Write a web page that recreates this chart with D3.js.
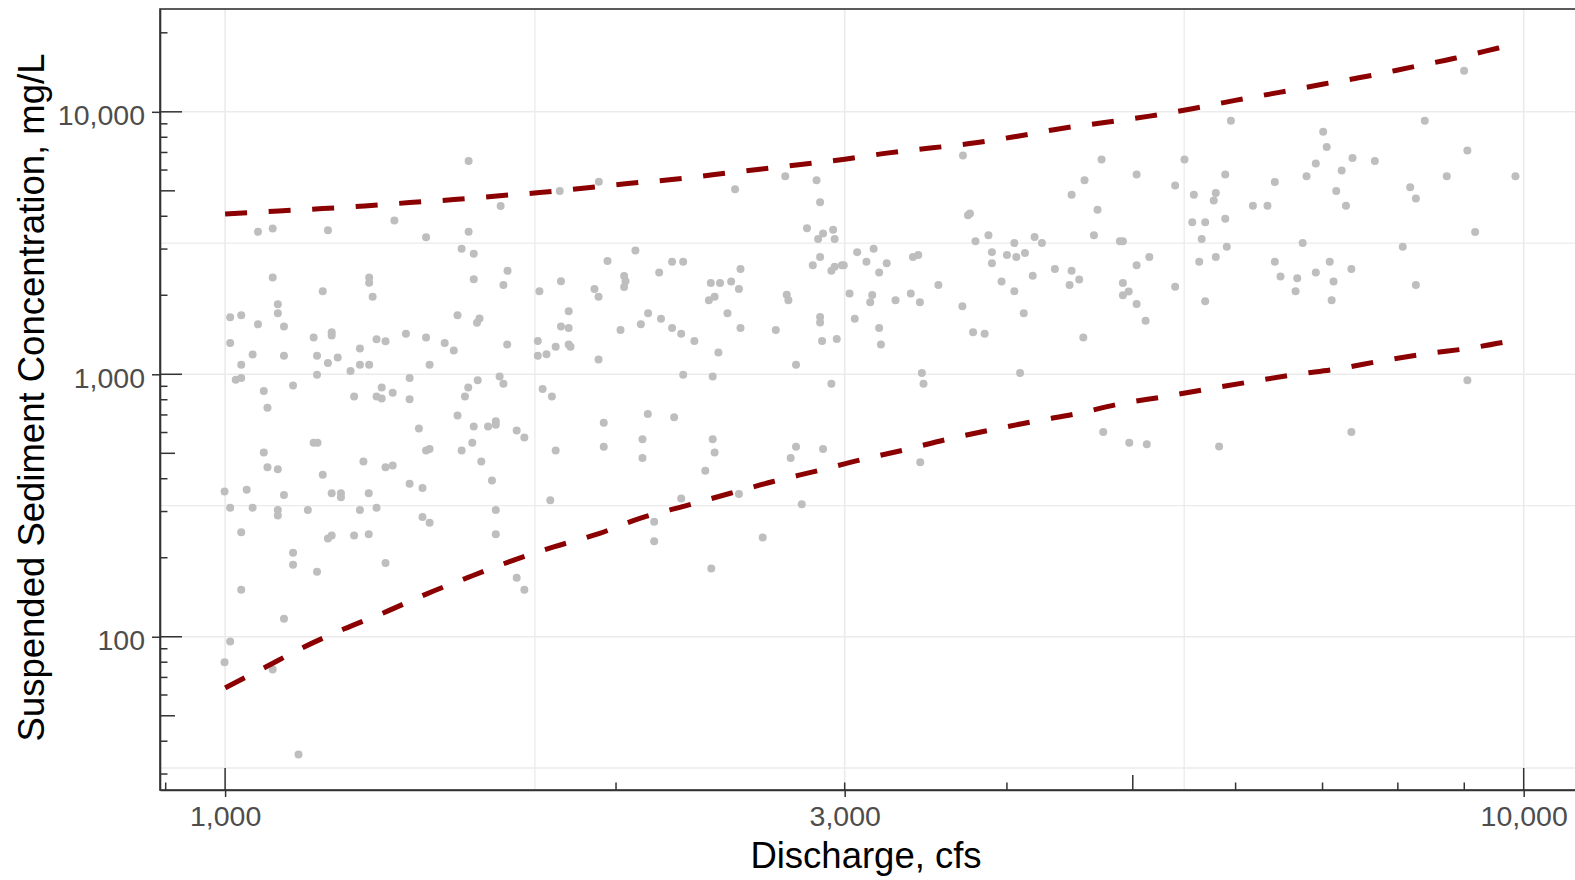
<!DOCTYPE html>
<html>
<head>
<meta charset="utf-8">
<script src="https://cdn.jsdelivr.net/npm/d3@7"></script>
<style>
body { margin: 0; background: #fff; }
svg { display: block; font-family: "Liberation Sans", Arial, sans-serif; }
</style>
</head>
<body>
<svg id="board" width="1575" height="880"></svg>
<script>
// samples: discharge (cfs) and suspended sediment (mg/L)
let discharge = [1540,1940,1810,1630,1350,1060,1088,1200,1540,1428,1521,1554,2070,1970,1650,1088,1291,1291,1299,1189,
  1554,1638,1746,1814,2029,2034,2029,1925,1939,1009,1029,1060,1098,1098,1110,1510,1570,1563,1839,1814,
  1839,2117,2090,2016,1009,1050,1029,1110,1170,1177,1208,1208,1200,1221,1270,1270,1291,1249,1308,1329,
  1378,1428,1476,1500,1437,1649,1741,1741,1768,1797,1839,1845,1939,1019,1029,1071,1128,1177,1320,1346,
  1387,1257,1308,1320,1387,1530,1539,1565,1627,1638,1756,1785,1078,1510,1410,1554,1594,1616,1616,1677,
  1700,1957,2116,1797,1957,2096,2096,1071,1078,1098,1170,1178,1189,1278,1329,1346,1428,1437,1521,1550,
  1575,999,1039,1110,1208,1228,1228,1290,1387,1419,1605,1009,1050,1098,1098,1158,1270,1308,1419,1437,
  1616,1780,1029,1200,1208,1257,1290,1616,1128,1128,1177,1329,1029,1677,1700,1110,1009,999,1088,1139,
  3700,2470,2700,2854,2872,4486,4590,3733,3746,2806,2887,2939,2862,2947,3783,3871,4053,4201,4256,4667,
  2159,2209,2253,2366,2405,2453,2494,2487,2358,2382,2437,2494,2298,2245,2209,2166,2398,2253,2374,2707,
  2715,2655,2752,2835,2872,2930,2947,2985,2995,3067,3118,3158,3189,3232,3026,3150,3139,3283,2872,2872,
  2882,2958,3054,3189,3199,2930,3373,3428,3386,3418,3542,3696,3767,3845,3440,3450,3895,3895,4000,4067,
  4130,3962,4053,4187,4121,4094,4355,4486,4470,4547,4580,8997,5950,8391,7008,7052,9050,4731,5480,6917,
  7382,7680,5034,5891,6804,7242,8725,9855,5390,6432,7172,8177,8260,4697,5572,5793,5772,6187,6349,7297,
  5556,5685,5891,4887,4913,5650,5907,6758,8070,9175,5034,5149,5625,5793,6432,6497,6693,6917,7090,7138,
  7367,4913,4913,4964,5034,5115,5390,5685,6673,7114,8260,9050,4745,4969,5126,5827,7367,2217,2374,2382,
  2343,2245,2140,2140,2487,2752,2726,2887,2780,2594,2368,3430]
let concentration = [6490,5410,4990,4380,3850,3490,3590,3540,3490,3330,3010,2880,2960,2700,2480,2340,2340,2230,1975,2070,
  2300,2190,2070,2260,2370,2260,2150,2115,1975,1650,1680,1550,1850,1710,1520,1680,1630,1570,1740,1520,
  1500,1710,1550,1475,1317,1190,1087,1177,1380,1177,1445,1405,1103,1158,1253,1087,1087,1030,1359,1336,
  1426,1382,1317,1231,1087,1298,1339,1177,1192,1272,1298,1272,1138,953,967,863,906,997,890,851,
  967,823,823,808,803,823,890,950,980,920,878,823,746,696,622,633,633,663,643,611,
  574,654,706,512,530,565,480,503,442,435,548,548,414,465,442,449,512,519,512,548,
  465,358,363,347,352,352,340,352,383,369,394,310,310,304,290,304,304,310,286,272,
  304,331,250,237,243,243,246,246,209,188,177,191,151,168,151,117,96,80,75,35.6,
  6810,5070,5680,5485,4520,4830,5485,4035,4095,3600,3440,3550,3277,3277,3210,3383,3161,3334,3161,3383,
  2445,2686,2686,2227,2227,2259,2518,2115,1913,1975,1707,1500,1339,1426,1500,1628,1212,997,980,2010,
  1913,1475,1087,2600,2800,2480,2566,2600,2600,2920,2686,3010,2445,2648,2033,2005,1880,1913,1652,1575,
  1339,1364,1628,1500,1298,920,2033,1880,2800,2850,2188,1818,1446,1426,1012,920,2920,2648,2850,2800,
  2900,2259,2073,2372,1707,1012,2518,2480,2188,2298,1382,14340,9240,9240,8390,7350,7120,6580,6580,6350,
  6675,6490,5770,5770,5683,5970,5683,5683,5240,5408,4990,5165,4670,4240,4830,4907,4592,4384,4384,4384,
  3793,3793,3912,3211,3211,3277,3063,3161,3063,3485,2601,2800,2686,2800,2686,2358,2324,2445,2686,2259,
  2518,2227,2002,2066,1852,1600,2154,1896,2073,1913,2188,950,603,548,541,531,603,686,565,503,
  429,336,274,231,350,530,480,519,320,239,182,462]

// upper and lower dashed curves
let upperQ = [1000,1100,1189,1281,1387,1500,1619,1747,1886,2042,2208,2382,2571,2775,3000,3244,3506,3784,4076,4406,4756,5151,5569,6009,6484,7013,7594,8180,8846,9545,9820]
let upperC = [4081,4189,4279,4377,4510,4630,4779,4925,5114,5330,5521,5768,6028,6300,6598,6976,7290,7617,8076,8643,9110,9629,10300,11080,11860,12760,13690,14770,15990,17460,18050]
let lowerQ = [1000,1072,1147,1234,1325,1427,1537,1656,1791,1940,2089,2262,2446,2643,2858,3081,3331,3605,3886,4195,4539,4907,5289,5717,6171,6661,7196,7796,8402,9082,9820]
let lowerC = [63.9,76.2,90.8,107,123.5,145.1,168,193.3,220,247.2,283,315.4,351.4,390.5,429,471.3,514.6,566.8,613.6,661.5,709.8,774.9,821.9,879.8,937.8,997.4,1049,1128,1196,1257,1345]

let xBreaks = [1000, 3000, 10000]
let yBreaks = [100, 1000, 10000]

let pLeft = 160, pRight = 1580, pTop = 9, pBottom = 790

let expand = (lo, hi) => {
    let a = Math.log10(lo), b = Math.log10(hi), pad = (b - a) * 0.05
    return [10 ** (a - pad), 10 ** (b + pad)]
}

let allQ = discharge.concat(upperQ, lowerQ)
let allC = concentration.concat(upperC, lowerC)
let xDomain = expand(d3.min(allQ), d3.max(allQ))
let yDomain = expand(d3.min(allC), d3.max(allC))

let x = d3.scaleLog().domain(xDomain).range([pLeft, pRight])
let y = d3.scaleLog().domain(yDomain).range([pBottom, pTop])

let inX = (v) => v >= xDomain[0] && v <= xDomain[1]
let inY = (v) => v >= yDomain[0] && v <= yDomain[1]

let xMinor = d3.pairs(xBreaks).map(([a, b]) => Math.sqrt(a * b)).filter(inX)
let yMinor = d3.pairs([10].concat(yBreaks)).map(([a, b]) => Math.sqrt(a * b)).filter(inY)

let board = d3.select('#board')

board.append('rect').attr('width', 1575).attr('height', 880).attr('fill', '#fff')

let grid = board.append('g')
grid.selectAll('.vminor').data(xMinor).enter().append('line')
    .attr('x1', (d) => x(d)).attr('x2', (d) => x(d)).attr('y1', pTop).attr('y2', pBottom)
    .attr('stroke', '#ebebeb').attr('stroke-width', 1.3)
grid.selectAll('.hminor').data(yMinor).enter().append('line')
    .attr('y1', (d) => y(d)).attr('y2', (d) => y(d)).attr('x1', pLeft).attr('x2', pRight)
    .attr('stroke', '#ebebeb').attr('stroke-width', 1.3)
grid.selectAll('.vmajor').data(xBreaks.filter(inX)).enter().append('line')
    .attr('x1', (d) => x(d)).attr('x2', (d) => x(d)).attr('y1', pTop).attr('y2', pBottom)
    .attr('stroke', '#ebebeb').attr('stroke-width', 1.6)
grid.selectAll('.hmajor').data(yBreaks.filter(inY)).enter().append('line')
    .attr('y1', (d) => y(d)).attr('y2', (d) => y(d)).attr('x1', pLeft).attr('x2', pRight)
    .attr('stroke', '#ebebeb').attr('stroke-width', 1.6)

board.append('g').selectAll('circle')
    .data(discharge.map((q, i) => [q, concentration[i]]))
    .enter()
    .append('circle')
    .attr('cx', (d) => x(d[0]))
    .attr('cy', (d) => y(d[1]))
    .attr('r', 4)
    .attr('fill', '#bebebe')

let line = d3.line().x((d) => x(d[0])).y((d) => y(d[1])).curve(d3.curveMonotoneX)

let bands = [upperQ.map((q, i) => [q, upperC[i]]), lowerQ.map((q, i) => [q, lowerC[i]])]
board.append('g').selectAll('path')
    .data(bands)
    .enter()
    .append('path')
    .attr('d', line)
    .attr('fill', 'none')
    .attr('stroke', '#8b0000')
    .attr('stroke-width', 5)
    .attr('stroke-dasharray', '22,21.6')

// log ticks inside the panel
let logTicks = (domain) => {
    let out = []
    for (let p = Math.floor(Math.log10(domain[0])); p <= Math.ceil(Math.log10(domain[1])); p++) {
        for (let k = 1; k <= 9; k++) {
            let v = k * 10 ** p
            if (v >= domain[0] && v <= domain[1]) out.push({ v: v, len: k === 1 ? 22 : k === 5 ? 15 : 7.5 })
        }
    }
    return out
}

board.append('g').selectAll('line')
    .data(logTicks(xDomain))
    .enter()
    .append('line')
    .attr('x1', (d) => x(d.v)).attr('x2', (d) => x(d.v))
    .attr('y1', pBottom).attr('y2', (d) => pBottom - d.len)
    .attr('stroke', '#333').attr('stroke-width', 1.5)

board.append('g').selectAll('line')
    .data(logTicks(yDomain))
    .enter()
    .append('line')
    .attr('y1', (d) => y(d.v)).attr('y2', (d) => y(d.v))
    .attr('x1', pLeft).attr('x2', (d) => pLeft + d.len)
    .attr('stroke', '#333').attr('stroke-width', 1.5)

board.append('rect')
    .attr('x', pLeft).attr('y', pTop)
    .attr('width', pRight - pLeft).attr('height', pBottom - pTop)
    .attr('fill', 'none').attr('stroke', '#333').attr('stroke-width', 1.6)

let xAxis = board.append('g')
    .attr('transform', 'translate(0,' + pBottom + ')')
    .call(d3.axisBottom(x).tickValues(xBreaks).tickFormat(d3.format(',')).tickSize(7).tickSizeOuter(0).tickPadding(9))

let yAxis = board.append('g')
    .attr('transform', 'translate(' + pLeft + ',0)')
    .call(d3.axisLeft(y).tickValues(yBreaks).tickFormat(d3.format(',')).tickSize(8).tickSizeOuter(0).tickPadding(7))

board.selectAll('.domain').attr('stroke', '#333').attr('stroke-width', 1.6)
board.selectAll('.tick line').attr('stroke', '#333').attr('stroke-width', 1.5)
board.selectAll('.tick text')
    .attr('fill', '#4d4d4d')
    .style('font-size', '28.5px')
    .style('font-family', '"Liberation Sans", Arial, sans-serif')
yAxis.selectAll('.tick text').attr('dy', '0.45em')

board.append('text')
    .attr('x', 866).attr('y', 868)
    .attr('text-anchor', 'middle')
    .style('font-size', '36.5px')
    .text('Discharge, cfs')

board.append('text')
    .attr('transform', 'translate(43.5,397.5) rotate(-90)')
    .attr('text-anchor', 'middle')
    .style('font-size', '36.5px')
    .text('Suspended Sediment Concentration, mg/L')
</script>
</body>
</html>
